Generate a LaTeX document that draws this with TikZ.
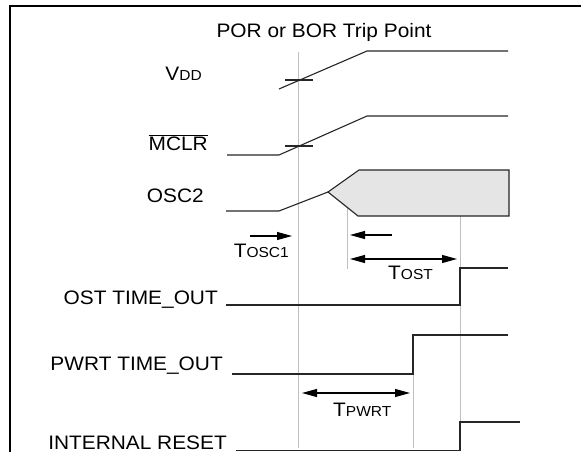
\documentclass[tikz,border=0pt]{standalone}
\usepackage{fontspec}
\setmainfont[FakeStretch=1.07]{Liberation Sans}
\usetikzlibrary{arrows.meta}
\newcommand{\lowcaps}[1]{{\fontsize{14.5}{15}\selectfont #1}}

\begin{document}
\begin{tikzpicture}[x=1pt, y=-1pt,
		wave/.style={draw=black!85, line width=1.1pt},
		guide/.style={draw=black!25, line width=0.9pt},
		span/.style={line width=1.1pt, -{Triangle[length=15pt, width=8pt]}},
		spanboth/.style={line width=1.1pt, {Triangle[length=15pt, width=8pt]}-{Triangle[length=15pt, width=8pt]}},
		tag/.style={inner sep=0pt, font=\fontsize{19.5}{20}\selectfont}]
		\useasboundingbox (0,0) rectangle (581,452);
		\draw[line width=2pt] (9.5,470) -- (9.5,6) -- (600,6);
		% time marks
		\coordinate (trip) at (298,52);
		\coordinate (oscend) at (347,207);
		\coordinate (pwrtend) at (413,374);
		\coordinate (ostend) at (460,216);
		\draw[guide] (trip) -- (298,448);
		\draw[guide] (oscend) -- (347,269);
		\draw[guide] (ostend) -- (460,448);
		\draw[guide] (pwrtend) -- (413,448);
		% signals
		\draw[wave] (279,89) -- (367,51) -- (508,51);
		\draw[wave] (285,80) -- (313,80);
		\draw[wave] (227,155) -- (279,155) -- (367,116) -- (508,116);
		\draw[wave] (285,146) -- (313,146);
		\draw[wave] (226,211) -- (279,211) -- (328,192);
		\draw[wave, fill=black!10] (328,192) -- (359,170) -- (509,170) -- (509,216) -- (358,216) -- cycle;
		\draw[wave] (226,305) -| (460,268) -- (508,268);
		\draw[wave] (232,374) -| (413,335) -- (508,335);
		\draw[wave] (236,450.5) -| (460,422) -- (520,422);
		% intervals
		\coordinate (a1) at (250,236);
		\coordinate (a2) at (292,236);
		\coordinate (b1) at (392,235);
		\coordinate (b2) at (350,235);
		\coordinate (c1) at (350,259);
		\coordinate (c2) at (457,259);
		\coordinate (d1) at (302,393);
		\coordinate (d2) at (410,393);
		\draw[span] (a1) -- (a2);
		\draw[span] (b1) -- (b2);
		\draw[spanboth] (c1) -- (c2);
		\draw[spanboth] (d1) -- (d2);
		% labels
		\node[tag, anchor=base] (title) at (324,38) {POR or BOR Trip Point};
		\node[tag, anchor=base east] (vdd) at (202,81) {V\lowcaps{DD}};
		\node[tag, anchor=base east] (mclr) at (208,150) {$\overline{\mbox{MCLR}}$};
		\node[tag, anchor=base east] (osc) at (204,202) {OSC2};
		\node[tag, anchor=base east] (tosc) at (289,257) {T\lowcaps{OSC1}};
		\node[tag, anchor=base west] (tost) at (388,279) {T\lowcaps{OST}};
		\node[tag, anchor=base east] (ost) at (218,304) {OST TIME\_OUT};
		\node[tag, anchor=base east] (pwrt) at (223,370) {PWRT TIME\_OUT};
		\node[tag, anchor=base west] (tpwrt) at (333,416) {T\lowcaps{PWRT}};
		\node[tag, anchor=base east] (rst) at (227,449) {INTERNAL RESET};
	\end{tikzpicture}
\end{document}
